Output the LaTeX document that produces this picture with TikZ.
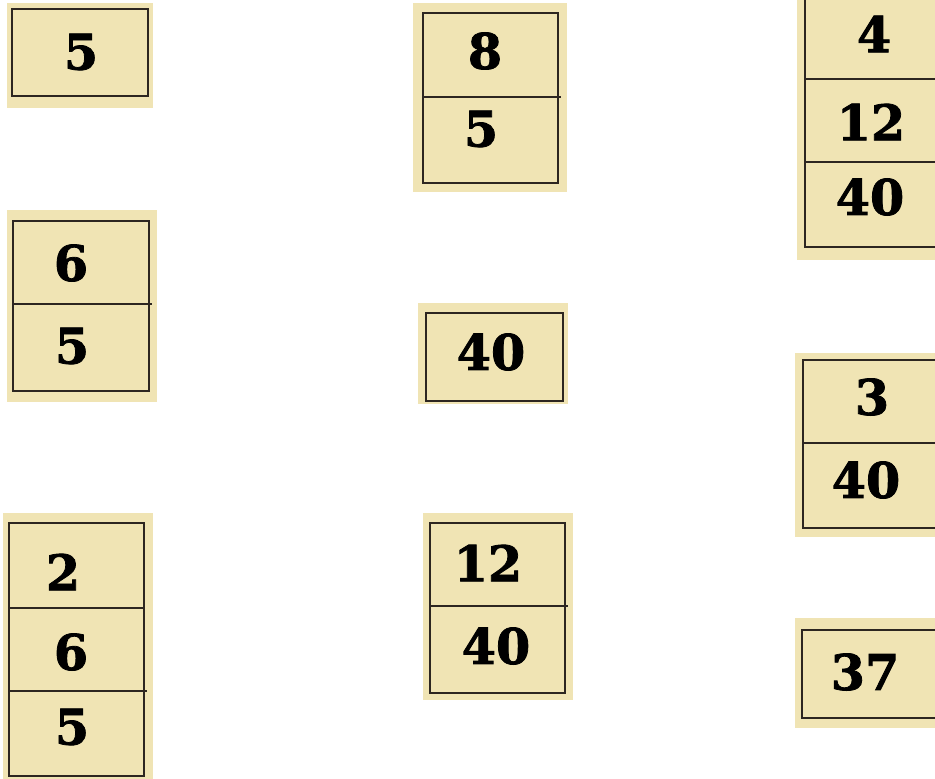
\documentclass[tikz,border=0pt]{standalone}
\usepackage{fontspec}
\setmainfont{DejaVu Serif}
\newfontfamily\heavyfont[FakeBold=1.6]{DejaVu Serif Bold}
\usetikzlibrary{positioning}
\definecolor{cardbg}{RGB}{240,228,180}
\definecolor{cardln}{RGB}{45,38,32}
\tikzset{
  card/.style={fill=cardbg},
  cellln/.style={draw=cardln,line width=1.2pt},
  num/.style={font=\fontsize{28}{28}\selectfont\heavyfont,text=black,inner sep=0pt},
}
\begin{document}
\begin{tikzpicture}[x=0.02cm,y=-0.02cm]
  \useasboundingbox (0,0) rectangle (935,778);
  \clip (0,0) rectangle (935,778);
  % left column
  \fill[card] (7,3) rectangle (153,108);
  \draw[cellln] (12,9) rectangle (148,96);
  \node[num] (a1) at (81,52) {5};

  \fill[card] (7,210) rectangle (157,402);
  \draw[cellln] (13,221) rectangle (149,391);
  \draw[cellln] (13,304) -- (152,304);
  \node[num] (b1) at (71,263) {6};
  \node[num] (b2) at (72,346) {5};

  \fill[card] (3,513) rectangle (153,785);
  \draw[cellln] (9,523) rectangle (144,776);
  \draw[cellln] (9,608) -- (144,608);
  \draw[cellln] (9,691) -- (147,691);
  \node[num] (c1) at (63,572) {2};
  \node[num] (c2) at (71,652) {6};
  \node[num] (c3) at (72,727) {5};
  % middle column
  \fill[card] (413,3) rectangle (567,192);
  \draw[cellln] (423,13) rectangle (558,183);
  \draw[cellln] (423,97) -- (561,97);
  \node[num] (d1) at (485,51) {8};
  \node[num] (d2) at (481,129) {5};

  \fill[card] (418,303) rectangle (568,404);
  \draw[cellln] (426,313) rectangle (563,401);
  \node[num] (e1) at (491,352) {40};

  \fill[card] (423,513) rectangle (573,700);
  \draw[cellln] (430,523) rectangle (565,693);
  \draw[cellln] (430,606) -- (568,606);
  \node[num] (f1) at (488,563) {12};
  \node[num] (f2) at (496,646) {40};
  % right column (cut at the edge)
  \fill[card] (797,-5) rectangle (940,260);
  \draw[cellln] (805,-4) rectangle (945,247);
  \draw[cellln] (805,79) -- (945,79);
  \draw[cellln] (805,162) -- (945,162);
  \node[num] (g1) at (874,34) {4};
  \node[num] (g2) at (871,122) {12};
  \node[num] (g3) at (870,197) {40};

  \fill[card] (795,353) rectangle (940,537);
  \draw[cellln] (803,360) rectangle (945,528);
  \draw[cellln] (803,443) -- (945,443);
  \node[num] (h1) at (872,397) {3};
  \node[num] (h2) at (866,480) {40};

  \fill[card] (795,618) rectangle (940,728);
  \draw[cellln] (802,630) rectangle (945,718);
  \node[num] (k1) at (865,672) {37};
\end{tikzpicture}
\end{document}
